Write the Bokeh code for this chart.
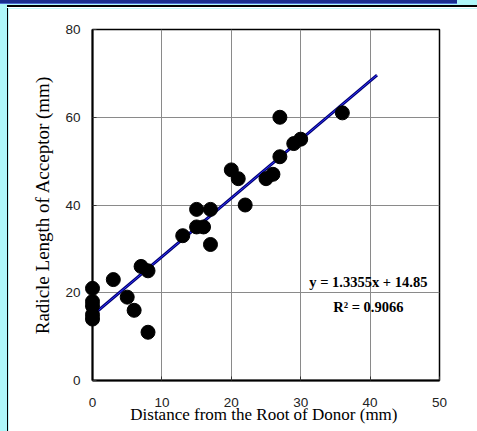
from bokeh.plotting import figure
from bokeh.models import Label, FixedTicker, GlobalInlineStyleSheet, ColumnDataSource
from bokeh.embed import file_html
from bokeh.resources import INLINE

# ---- data ----
distance = [0, 0, 0, 0, 0, 3, 5, 6, 7, 8, 8, 13, 15, 15, 16, 17, 17,
            20, 21, 22, 25, 26, 27, 27, 29, 30, 36]
radicle = [21, 18, 17, 15, 14, 23, 19, 16, 26, 25, 11, 33, 39, 35, 35, 39, 31,
           48, 46, 40, 46, 47, 60, 51, 54, 55, 61]
slope = 1.3355
intercept = 14.85
r_squared = 0.9066
forecast = 5
x_ticks = [0, 10, 20, 30, 40, 50]
y_ticks = [0, 20, 40, 60, 80]

css = (
    "html, body { background:"
    " linear-gradient(#fff,#fff) 7px 7px/470px 1px no-repeat,"
    " linear-gradient(#1b2d8e,#1b2d8e) 0 0/457px 3px no-repeat,"
    " linear-gradient(#4a6ad0,#4a6ad0) 0 3px/457px 1px no-repeat,"
    " linear-gradient(#000,#000) 7px 5px/1px 426px no-repeat,"
    " linear-gradient(#000,#000) 7px 5px/470px 2px no-repeat,"
    " #aef7fa; }"
)

p = figure(width=469, height=423, x_range=(0, 50), y_range=(0, 80),
           output_backend="svg", toolbar_location=None,
           min_border_left=84, min_border_right=38,
           min_border_top=21, min_border_bottom=51)
p.stylesheets = [GlobalInlineStyleSheet(css=css)]
p.styles = {"margin-left": "8px", "margin-top": "8px"}
p.background_fill_color = "white"
p.border_fill_color = "white"
p.outline_line_color = "black"
p.outline_line_width = 1.5

for ax in (p.xaxis[0], p.yaxis[0]):
    ax.major_label_text_font = "Liberation Sans"
    ax.major_label_text_font_size = "13.5px"
    ax.major_label_text_color = "#222222"
    ax.axis_line_color = "black"
    ax.axis_line_width = 2
    ax.major_tick_in = 4
    ax.major_tick_out = 0
    ax.major_tick_line_color = "#333333"
    ax.minor_tick_line_color = None
    ax.axis_label_text_font = "Liberation Serif"
    ax.axis_label_text_font_style = "normal"
    ax.axis_label_text_color = "black"

p.xaxis.ticker = FixedTicker(ticks=x_ticks)
p.yaxis.ticker = FixedTicker(ticks=y_ticks)
p.xaxis.axis_label = "Distance from the Root of Donor  (mm)"
p.yaxis.axis_label = "Radicle Length of Acceptor (mm)"
p.xaxis.axis_label_text_font_size = "17px"
p.yaxis.axis_label_text_font_size = "19px"
p.xaxis.major_label_standoff = 17
p.xaxis.axis_label_standoff = -5
p.yaxis.major_label_standoff = 12
p.yaxis.axis_label_standoff = 9

p.xgrid.ticker = FixedTicker(ticks=x_ticks)
p.ygrid.ticker = FixedTicker(ticks=y_ticks)
p.grid.grid_line_color = "#8a8a8a"
p.grid.grid_line_width = 1

src = ColumnDataSource(dict(x=distance, y=radicle))
p.scatter("x", "y", source=src, size=14, fill_color="black",
          line_color="black", level="overlay")

x_end = max(distance) + forecast
tx = [0, x_end]
ty = [slope * v + intercept for v in tx]
p.line(tx, ty, line_color="#000070", line_width=3)
p.line(tx, ty, line_color="#3030ff", line_width=1)

eq = Label(x=39.75, y=22.4, text=f"y = {slope}x + {intercept}",
           text_font="Liberation Serif", text_font_style="bold",
           text_font_size="14.5px", text_align="center",
           text_baseline="middle", text_color="black")
r2 = Label(x=39.75, y=16.7, text=f"R\u00b2 = {r_squared}",
           text_font="Liberation Serif", text_font_style="bold",
           text_font_size="14.5px", text_align="center",
           text_baseline="middle", text_color="black")
p.add_layout(eq)
p.add_layout(r2)

open("out.html", "w").write(file_html(p, INLINE))
